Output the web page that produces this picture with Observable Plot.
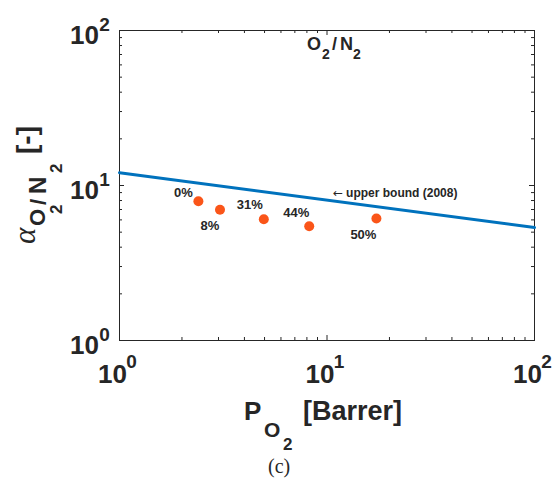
<!DOCTYPE html>
<html><head><meta charset="utf-8">
<script src="https://cdn.jsdelivr.net/npm/d3@7"></script>
<script src="https://cdn.jsdelivr.net/npm/@observablehq/plot@0.6"></script>
<style>body{margin:0;background:#fff} svg{display:block}</style>
</head><body><div id="chart"></div>
<script>
// ---- data ----
const fillerPct   = ["0%", "8%", "31%", "44%", "50%"];
const permO2      = [2.40, 3.05, 4.96, 8.21, 17.3];   // P_O2 [Barrer]
const selectivity = [7.92, 6.97, 6.06, 5.46, 6.12];   // alpha O2/N2
const boundPerm   = [1, 100];
const boundSel    = [12.1, 5.35];                      // Robeson 2008 upper bound
const boundArrow  = "\u2190";
const boundLabel  = "upper bound (2008)";
const boundLabelPerm = 10.7;
const boundLabelSel  = 8.88;
const majorTicks  = [1, 10, 100];
const tickBase    = "10";
const tickExp     = ["0", "1", "2"];
const minorTicks  = [2, 3, 4, 5, 6, 7, 8, 9, 20, 30, 40, 50, 60, 70, 80, 90];

// ---- layout ----
const W = 554, H = 480, mL = 119, mR = 20, mT = 30, mB = 140;
const fw = W - mL - mR, fh = H - mT - mB;
const ink = "#262626";
const sans = "'Liberation Sans', Arial, sans-serif";

const labelOffset = {"0%": [-15, -8], "8%": [-10, 16], "31%": [-14, -14], "44%": [-13, -13], "50%": [-13, 16]};

const tickMarks = (vals, len) => [
  Plot.ruleX(vals, {x: d => d, insetTop: fh - len, stroke: ink, strokeWidth: 1}),
  Plot.ruleX(vals, {x: d => d, insetBottom: fh - len, stroke: ink, strokeWidth: 1}),
  Plot.ruleY(vals, {y: d => d, insetRight: fw - len, stroke: ink, strokeWidth: 1}),
  Plot.ruleY(vals, {y: d => d, insetLeft: fw - len, stroke: ink, strokeWidth: 1})
];

const lbl = {textAnchor: "middle", lineAnchor: "middle", fontWeight: "bold", fill: ink};

const plot = Plot.plot({
  width: W, height: H,
  marginLeft: mL, marginRight: mR, marginTop: mT, marginBottom: mB,
  x: {type: "log", domain: [1, 100], axis: null},
  y: {type: "log", domain: [1, 100], axis: null},
  style: {fontFamily: sans, background: "#fff", color: ink},
  marks: [
    ...tickMarks(minorTicks, 3),
    ...tickMarks(majorTicks, 5),
    Plot.frame({stroke: ink, strokeWidth: 1}),
    // x tick labels 10^k
    Plot.text(majorTicks, {x: d => d, frameAnchor: "bottom", text: () => tickBase, dx: -7, dy: 34,
      fontSize: 26, ...lbl}),
    Plot.text(majorTicks, {x: d => d, frameAnchor: "bottom", text: (d, i) => tickExp[i], dx: 12, dy: 21,
      fontSize: 19, ...lbl}),
    // y tick labels 10^k
    Plot.text(majorTicks, {y: d => d, frameAnchor: "left", text: () => tickBase, dx: -35, dy: 5,
      fontSize: 26, ...lbl}),
    Plot.text(majorTicks, {y: d => d, frameAnchor: "left", text: (d, i) => tickExp[i], dx: -15, dy: -6,
      fontSize: 19, ...lbl}),
    // upper bound
    Plot.line(boundPerm, {x: boundPerm, y: boundSel, stroke: "#0072BD", strokeWidth: 3}),
    Plot.text([boundArrow], {x: boundLabelPerm, y: boundLabelSel, text: d => d,
      fontSize: 12, ...lbl, fontWeight: "normal", textAnchor: "start", fontFamily: "'DejaVu Sans', sans-serif"}),
    Plot.text([boundLabel], {x: boundLabelPerm, y: boundLabelSel, text: d => d, dx: 13,
      fontSize: 12, ...lbl, textAnchor: "start"}),
    // data points
    Plot.dot(fillerPct, {x: permO2, y: selectivity, r: 5, fill: "#FA5519", stroke: "none"}),
    ...fillerPct.map((p, i) => Plot.text([p], {x: [permO2[i]], y: [selectivity[i]], text: d => d,
      dx: labelOffset[p][0], dy: labelOffset[p][1], fontSize: 13, ...lbl}))
  ]
});

document.getElementById("chart").appendChild(plot);

// ---- titles with sub/superscripts (real text) ----
const s = d3.select(plot);
const txt = (parent, x, y, size, str, opts = {}) => parent.append("text")
  .attr("x", x).attr("y", y).attr("font-size", size)
  .attr("text-anchor", "start")
  .attr("font-family", opts.family || sans)
  .attr("font-weight", opts.weight || "bold")
  .attr("font-style", opts.style || "normal")
  .attr("fill", ink).text(str);

// panel title O2/N2
txt(s, 307, 50, 18, "O");
txt(s, 322, 59, 14, "2");
txt(s, 332, 50, 18, "/");
txt(s, 340, 50, 18, "N");
txt(s, 353, 59, 14, "2");

// x-axis title: P_O2 [Barrer]
txt(s, 244, 420, 26, "P");
txt(s, 264, 437, 21, "O");
txt(s, 283, 450, 17, "2");
txt(s, 303, 420, 27, "[Barrer]");

// y-axis title: alpha_O2/N2 [-] (rotated)
const g = s.append("g").attr("transform", "rotate(-90)");
txt(g, -244, 35, 31, "\u03B1", {family: "'Liberation Serif', serif", weight: "normal", style: "italic"});
txt(g, -226, 45, 22, "O");
txt(g, -214, 62, 17, "2");
txt(g, -205, 46, 22, "/");
txt(g, -194, 46, 24, "N");
txt(g, -173, 62, 17, "2");
txt(g, -154, 36, 28, "[-]");

// caption
txt(s, 268, 473, 20, "(c)", {family: "'Liberation Serif', serif", weight: "normal"});
</script>
</body></html>
